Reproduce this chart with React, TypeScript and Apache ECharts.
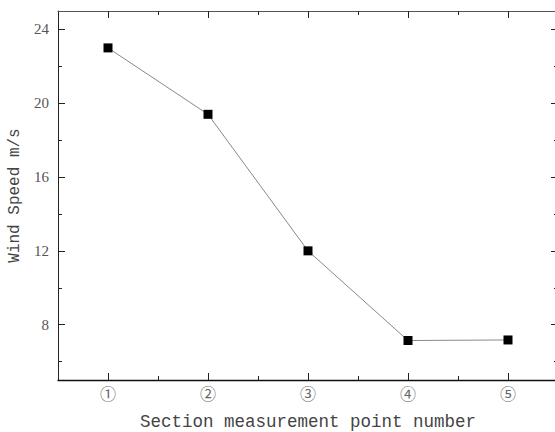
import React, { useEffect, useRef } from "react";
import * as echarts from "echarts";

const categories = ["①", "②", "③", "④", "⑤"];
const windSpeed = [23.0, 19.4, 12.0, 7.14, 7.17];
const yTickLabels = [8, 12, 16, 20, 24];
const yMinorTicks = [6, 10, 14, 18, 22];
const xMajorTicks = [1, 2, 3, 4, 5];
const xMinorTicks = [1.5, 2.5, 3.5, 4.5];

export default function App() {
  const ref = useRef<HTMLDivElement>(null);
  useEffect(() => {
    const chart = echarts.init(ref.current!, null, { renderer: "svg" });
    const axisLine = { show: true, lineStyle: { color: "#222", width: 1 } };
    const xBase = { type: "value", min: 0.5, max: 5.5, splitLine: { show: false } };
    const yBase = { type: "value", min: 5, max: 25, splitLine: { show: false } };
    chart.setOption({
      animation: false,
      backgroundColor: "#fff",
      grid: { left: 58, top: 11, right: 0, bottom: 52, containLabel: false, outerBoundsMode: "none" },
      xAxis: [
        {
          ...xBase,
          position: "bottom",
          axisLine: { show: true, lineStyle: { color: "#111", width: 1.3 } },
          axisTick: { show: true, inside: true, length: 7, customValues: xMajorTicks, lineStyle: { color: "#222" } },
          axisLabel: {
            show: true,
            customValues: xMajorTicks,
            formatter: (v: number) => categories[Math.round(v) - 1] ?? "",
            fontFamily: "Noto Sans CJK SC",
            fontSize: 16,
            color: "#666",
            margin: 5,
          },
          name: "Section measurement point number",
          nameLocation: "middle",
          nameGap: 33,
          nameTextStyle: { fontFamily: "Liberation Mono", fontSize: 17.5, color: "#444" },
        },
        {
          ...xBase,
          position: "bottom",
          axisLine: { show: false },
          axisTick: { show: true, inside: true, length: 4, customValues: xMinorTicks, lineStyle: { color: "#222" } },
          axisLabel: { show: false },
        },
        {
          ...xBase,
          position: "top",
          axisLine: { show: true, lineStyle: { color: "#555", width: 1 } },
          axisTick: { show: true, inside: true, length: 7, customValues: xMajorTicks, lineStyle: { color: "#222" } },
          axisLabel: { show: false },
        },
        {
          ...xBase,
          position: "top",
          axisLine: { show: false },
          axisTick: { show: true, inside: true, length: 4, customValues: xMinorTicks, lineStyle: { color: "#222" } },
          axisLabel: { show: false },
        },
      ],
      yAxis: [
        {
          ...yBase,
          position: "left",
          axisLine,
          axisTick: { show: true, inside: true, length: 7, customValues: yTickLabels, lineStyle: { color: "#222" } },
          axisLabel: {
            show: true,
            customValues: yTickLabels,
            fontFamily: "Liberation Serif",
            fontSize: 15,
            color: "#555",
            margin: 9,
          },
          name: "Wind Speed m/s",
          nameLocation: "middle",
          nameGap: 33,
          nameTextStyle: { fontFamily: "Liberation Mono", fontSize: 16, color: "#444" },
        },
        {
          ...yBase,
          position: "left",
          axisLine: { show: false },
          axisTick: { show: true, inside: true, length: 4, customValues: yMinorTicks, lineStyle: { color: "#222" } },
          axisLabel: { show: false },
        },
        {
          ...yBase,
          position: "right",
          axisLine,
          axisTick: { show: true, inside: true, length: 7, customValues: yTickLabels, lineStyle: { color: "#222" } },
          axisLabel: { show: false },
        },
        {
          ...yBase,
          position: "right",
          axisLine: { show: false },
          axisTick: { show: true, inside: true, length: 4, customValues: yMinorTicks, lineStyle: { color: "#222" } },
          axisLabel: { show: false },
        },
      ],
      series: [
        {
          type: "line",
          xAxisIndex: 0,
          yAxisIndex: 0,
          data: windSpeed.map((v, i) => [i + 1, v]),
          symbol: "rect",
          symbolSize: 9,
          itemStyle: { color: "#000" },
          lineStyle: { color: "#888", width: 1 },
        },
      ],
    });
    return () => chart.dispose();
  }, []);
  return (
    <div
      ref={ref}
      style={{ position: "fixed", left: 0, top: 0, width: 558, height: 432 }}
    />
  );
}
